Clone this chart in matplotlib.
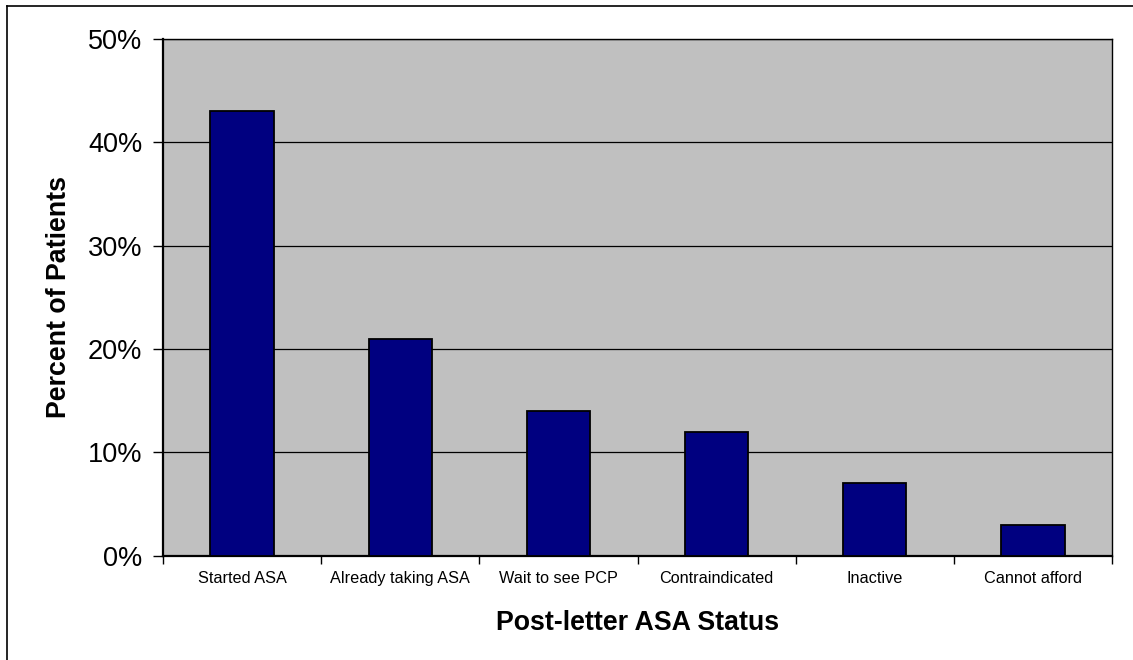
import numpy as np
from matplotlib import pyplot as plt
from matplotlib.lines import Line2D
from matplotlib.ticker import FuncFormatter, MultipleLocator

plt.rcParams['font.family'] = ['Liberation Sans', 'DejaVu Sans']

statuses = ['Started ASA', 'Already taking ASA', 'Wait to see PCP',
            'Contraindicated', 'Inactive', 'Cannot afford']
percents = [43, 21, 14, 12, 7, 3]

fig = plt.figure(figsize=(11.33, 6.6), dpi=100)
ax = fig.add_axes([0.1439, 0.158, 0.8376, 0.783])
ax.set_facecolor('#C0C0C0')

x = np.arange(len(statuses))
ax.bar(x, percents, width=0.4, color='#000080', edgecolor='black',
       linewidth=1.3, zorder=3)

ax.set_xlim(-0.5, len(statuses) - 0.5)
ax.set_ylim(0, 50)
ax.yaxis.set_major_locator(MultipleLocator(10))
ax.yaxis.set_major_formatter(FuncFormatter(lambda v, p: '%d%%' % v))
ax.grid(axis='y', color='black', linewidth=0.9, zorder=1)
ax.set_axisbelow(True)

# labels sit at the centres, tick marks between categories
ax.set_xticks(x)
ax.set_xticklabels(statuses, fontsize=11.7)
ax.tick_params(axis='x', which='major', length=0, pad=11)
ax.set_xticks(np.arange(-0.5, len(statuses)), minor=True)
ax.tick_params(axis='x', which='minor', length=6, width=1, direction='out')
ax.tick_params(axis='y', labelsize=19.5, length=7, width=1, pad=8)

for s in ax.spines.values():
    s.set_color('black')
    s.set_linewidth(1.0)
ax.spines['left'].set_linewidth(1.6)
ax.spines['bottom'].set_linewidth(1.6)

ax.set_ylabel('Percent of Patients', fontsize=19.3, fontweight='bold', labelpad=11)
ax.set_xlabel('Post-letter ASA Status', fontsize=19.3, fontweight='bold', labelpad=17)

# chart frame
fig.add_artist(Line2D([7 / 1133, 7 / 1133], [0, 1 - 6 / 660], color='black',
                      linewidth=1.2, transform=fig.transFigure))
fig.add_artist(Line2D([7 / 1133, 1], [1 - 6 / 660, 1 - 6 / 660], color='black',
                      linewidth=1.2, transform=fig.transFigure))

plt.savefig('out.png', dpi=100)
